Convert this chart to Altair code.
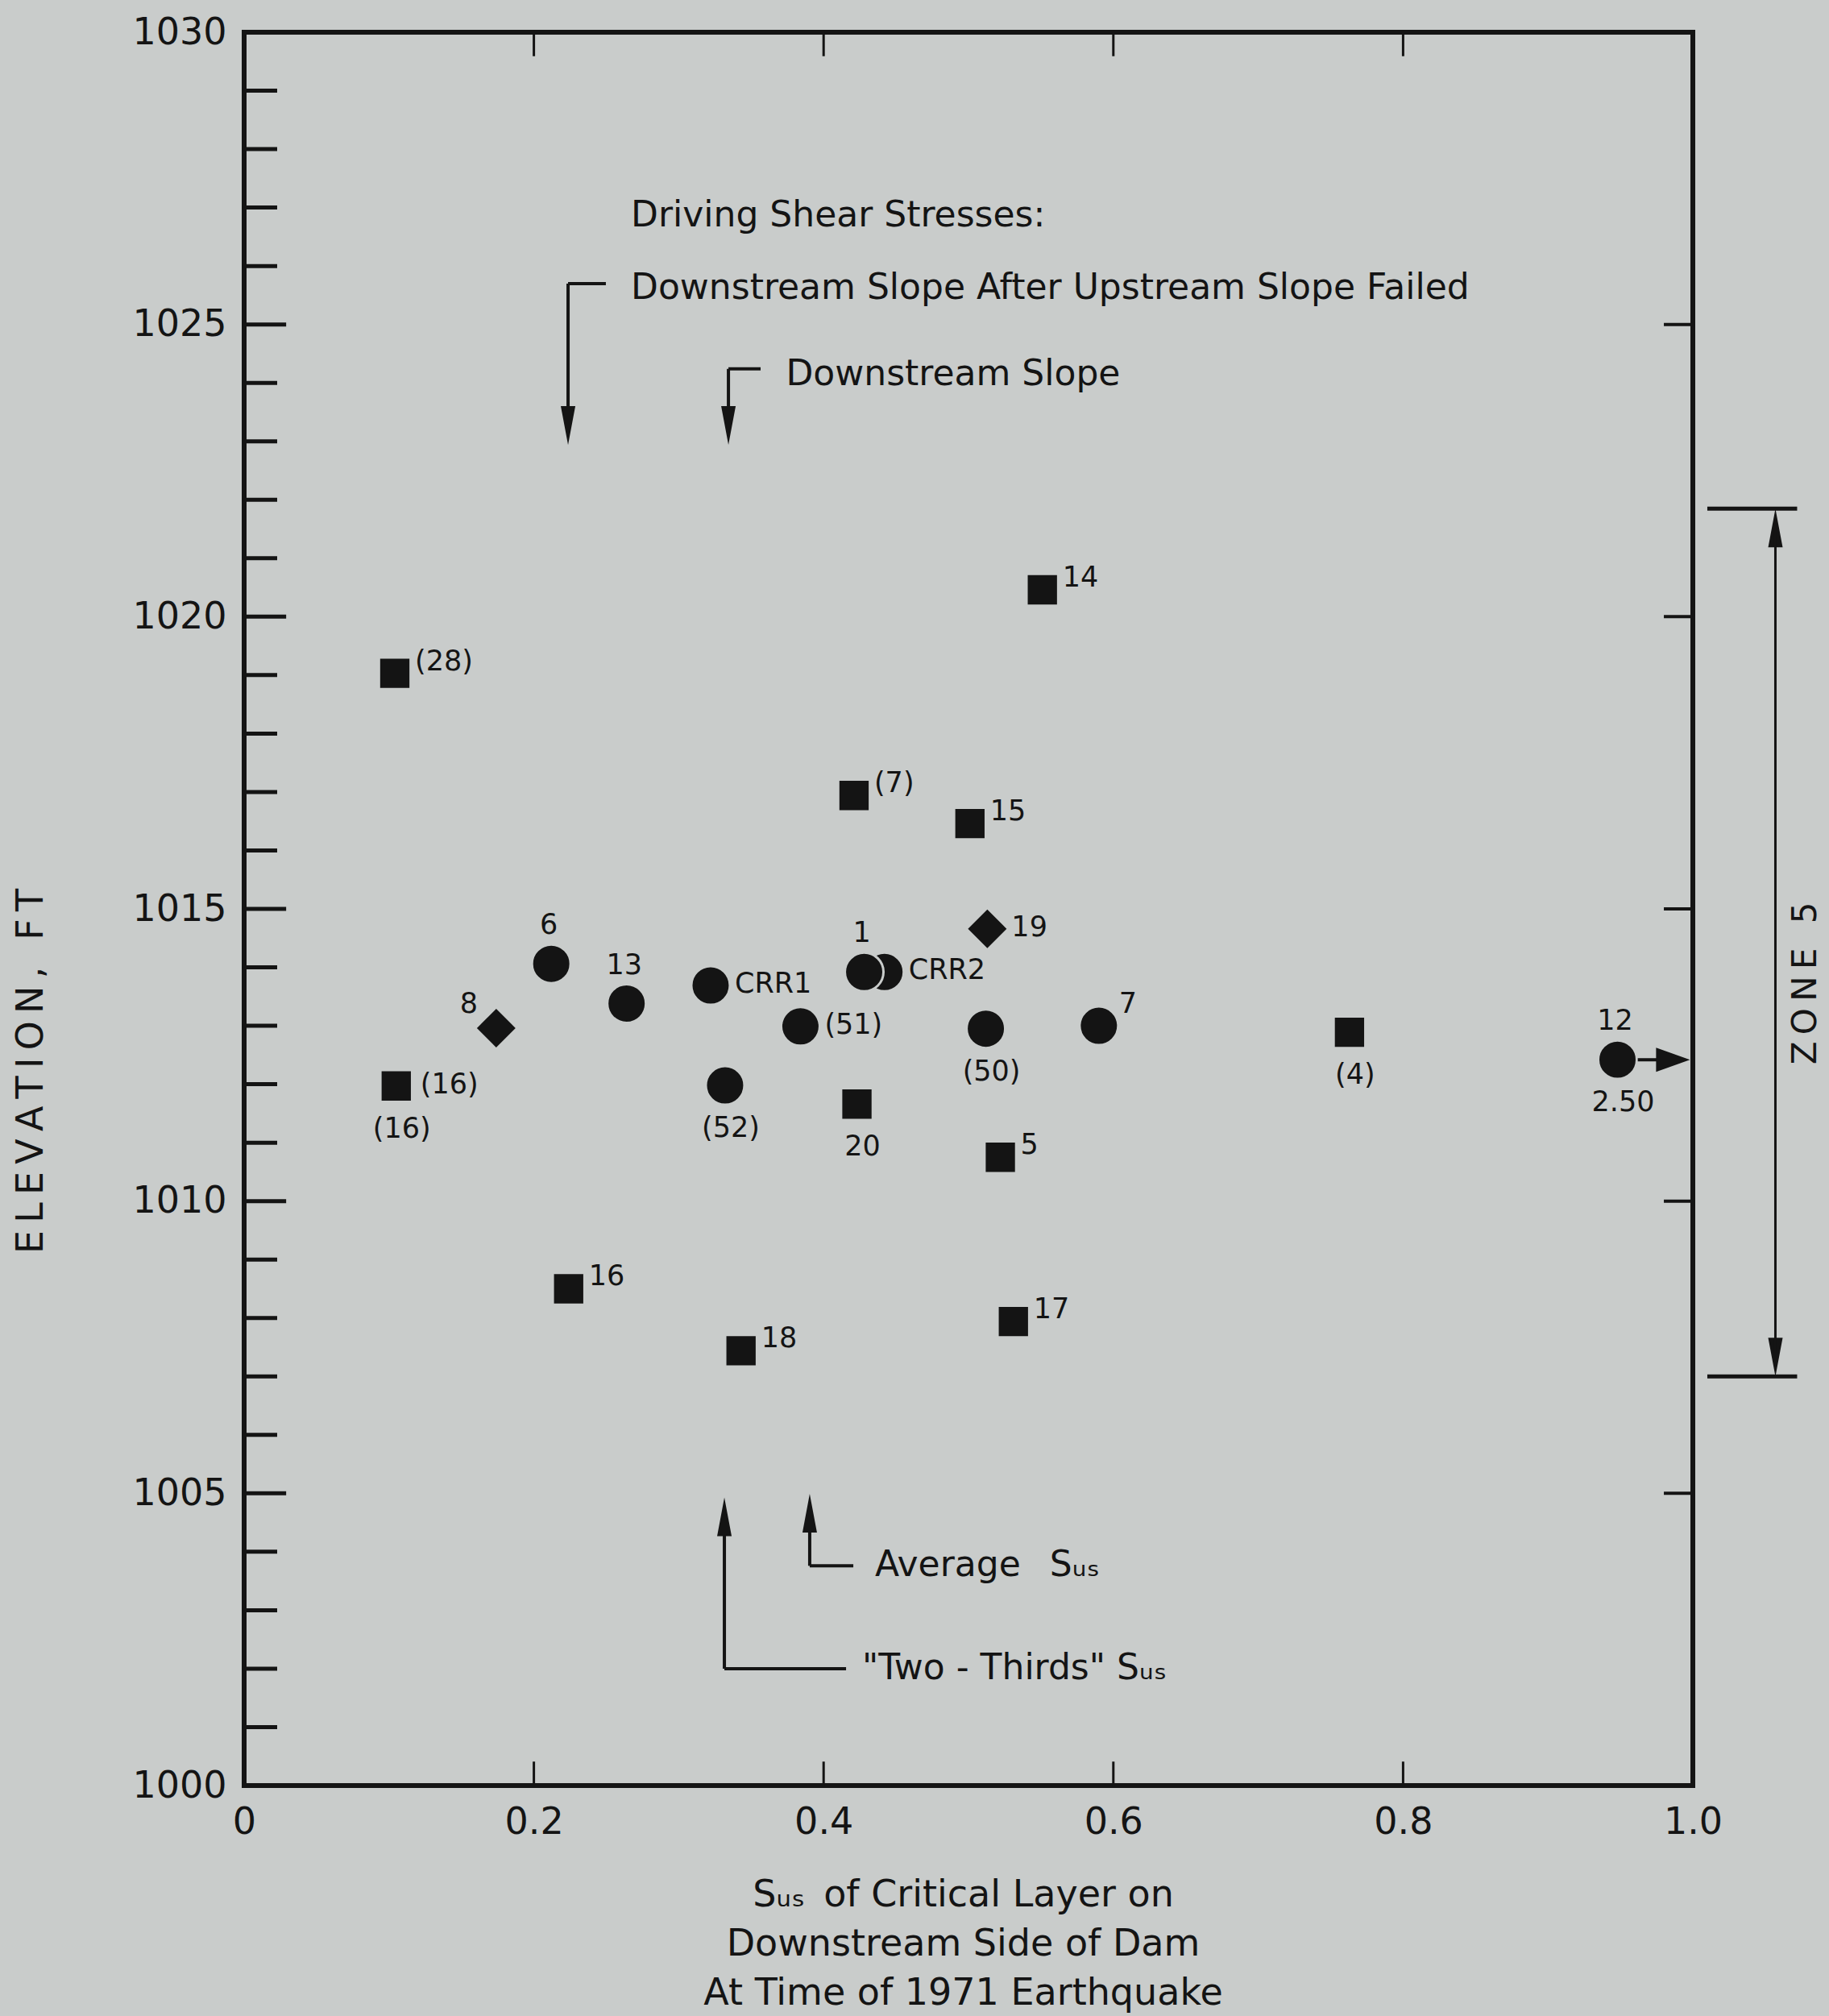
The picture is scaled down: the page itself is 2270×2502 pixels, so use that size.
import altair as alt
import pandas as pd

BG = "#c9cccb"
INK = "#141414"
FONT = "DejaVu Sans"

# ---------------- data points ----------------
pt_name = ["(28)", "(16)", "8", "6", "13", "CRR1", "(52)", "(51)", "CRR2", "1",
           "20", "(7)", "15", "14", "19", "(50)", "7", "5", "17", "16", "18", "(4)", "12"]
pt_sus = [0.104, 0.105, 0.174, 0.212, 0.264, 0.322, 0.332, 0.384, 0.442, 0.428,
          0.423, 0.421, 0.501, 0.551, 0.513, 0.512, 0.590, 0.522, 0.531, 0.224, 0.343, 0.763, 0.948]
pt_elev = [1019.03, 1011.97, 1012.96, 1014.06, 1013.38, 1013.69, 1011.98, 1012.99, 1013.92, 1013.92,
           1011.66, 1016.94, 1016.46, 1020.46, 1014.66, 1012.95, 1013.00, 1010.75, 1007.94, 1008.50,
           1007.44, 1012.89, 1012.42]
pt_shape = ["square", "square", "diamond", "circle", "circle", "circle", "circle", "circle", "circle", "circle",
            "square", "square", "square", "square", "diamond", "circle", "circle", "square", "square", "square",
            "square", "square", "circle"]

# ---------------- point labels ----------------
lab_text = ["(28)", "(16)", "(16)", "8", "6", "13", "CRR1", "(52)", "(51)", "1", "CRR2", "20",
            "(7)", "15", "14", "19", "(50)", "7", "5", "17", "16", "18", "(4)", "12", "2.50"]
lab_of = ["(28)", "(16)", "(16)", "8", "6", "13", "CRR1", "(52)", "(51)", "1", "CRR2", "20",
          "(7)", "15", "14", "19", "(50)", "7", "5", "17", "16", "18", "(4)", "12", "12"]
lab_place = ["sup", "right", "below", "upleft", "above", "above", "right", "below", "right", "above", "right", "below",
             "sup", "sup", "sup", "right", "below", "supc", "sup", "sup", "sup", "sup", "below", "above", "below"]

# ---------------- annotations ----------------
note_text = ["Driving Shear Stresses:",
             "Downstream Slope After Upstream Slope Failed",
             "Downstream Slope",
             "Average\u2002 S\u1d64\u209b",
             "\"Two - Thirds\" S\u1d64\u209b"]
note_x = [0.267, 0.267, 0.374, 0.4355, 0.4266]
note_y = [1026.86, 1025.62, 1024.14, 1003.76, 1002.00]

# leader line segments
seg_x1 = [0.2497, 0.2236, 0.3565, 0.3343, 0.4205, 0.3904, 0.4155, 0.3315, 0.962]
seg_x2 = [0.2236, 0.2236, 0.3343, 0.3343, 0.3904, 0.3904, 0.3315, 0.3315, 0.985]
seg_y1 = [1025.70, 1025.70, 1024.24, 1024.24, 1003.76, 1003.76, 1002.00, 1002.00, 1012.42]
seg_y2 = [1025.70, 1023.40, 1024.24, 1023.40, 1003.76, 1004.50, 1002.00, 1004.50, 1012.42]

# arrow heads
tip_x = [0.2236, 0.3343, 0.3904, 0.3315, 0.998, 1.057, 1.057]
tip_y = [1022.94, 1022.94, 1004.99, 1004.93, 1012.42, 1021.85, 1007.00]
tip_dir = ["down", "down", "up", "up", "right", "up", "down"]

# zone 5 dimension
zone_top, zone_bot = 1021.85, 1007.00
zone_x = 1.057
zone_bar_x1, zone_bar_x2 = 1.010, 1.072
zone_label = "Z\u2009O\u2009N\u2009E\u2009 \u20095"

# axis ticks
y_label_vals = [1000, 1005, 1010, 1015, 1020, 1025, 1030]
y_major_ticks = [1005, 1010, 1015, 1020, 1025]
y_minor_ticks = [1001, 1002, 1003, 1004, 1006, 1007, 1008, 1009, 1011, 1012, 1013, 1014,
                 1016, 1017, 1018, 1019, 1021, 1022, 1023, 1024, 1026, 1027, 1028, 1029]
x_label_vals = [0, 0.2, 0.4, 0.6, 0.8, 1.0]
x_inner_ticks = [0.2, 0.4, 0.6, 0.8]

# ---------------- build ----------------
xs = alt.Scale(domain=[0, 1], nice=False, zero=False)
ys = alt.Scale(domain=[1000, 1030], nice=False, zero=False)

x_axis = alt.Axis(values=x_label_vals,
                  labelExpr="datum.value == 0 ? '0' : format(datum.value, '.1f')",
                  ticks=False, domain=False, grid=False,
                  labelFont=FONT, labelFontSize=46, labelColor=INK, labelPadding=23,
                  labelFlush=False, labelOverlap=False,
                  title=["S\u1d64\u209b\u2002of Critical Layer on", "Downstream Side of Dam",
                         "At Time of 1971 Earthquake"],
                  titleFont=FONT, titleFontSize=46, titleFontWeight="normal", titleColor=INK,
                  titleLineHeight=61, titleBaseline="top", titleY=113, titleX=892)
y_axis = alt.Axis(values=y_label_vals, format="d",
                  ticks=False, domain=False, grid=False,
                  labelFont=FONT, labelFontSize=46, labelColor=INK, labelPadding=22,
                  labelFlush=False, labelOverlap=False,
                  title="E\u2009L\u2009E\u2009V\u2009A\u2009T\u2009I\u2009O\u2009N\u2009,\u2009 \u2009F\u2009T",
                  titleFont=FONT, titleFontSize=46, titleFontWeight="normal", titleColor=INK,
                  titleAngle=270, titleBaseline="middle", titleAlign="center",
                  titleX=-265, titleY=1289)


def X(f):
    return alt.X(f, type="quantitative", scale=xs, axis=x_axis)


def Y(f):
    return alt.Y(f, type="quantitative", scale=ys, axis=y_axis)


pts = pd.DataFrame({"name": pt_name, "sus": pt_sus, "elev": pt_elev, "shape": pt_shape})
lookup = {n: (sx, ey) for n, sx, ey in zip(pt_name, pt_sus, pt_elev)}
labs = pd.DataFrame({"text": lab_text,
                     "sus": [lookup[n][0] for n in lab_of],
                     "elev": [lookup[n][1] for n in lab_of],
                     "place": lab_place})

circles = alt.Chart(pts).transform_filter("datum.shape == 'circle'").mark_point(
    shape="circle", filled=True, fill=INK, stroke=BG, strokeWidth=3, size=2300, opacity=1
).encode(x=X("sus"), y=Y("elev"))

squares = alt.Chart(pts).transform_filter("datum.shape == 'square'").mark_point(
    shape="square", filled=True, fill=INK, strokeWidth=0, size=1320, opacity=1
).encode(x=X("sus"), y=Y("elev"))

diamonds = alt.Chart(pts).transform_filter("datum.shape == 'diamond'").mark_point(
    shape="diamond", filled=True, fill=INK, strokeWidth=0, size=2300, opacity=1
).encode(x=X("sus"), y=Y("elev"))

placements = {"sup": (25, -15, "left"), "supc": (25, -27, "left"), "right": (30, -2, "left"),
              "above": (-3, -48, "center"), "upleft": (-34, -30, "center"), "below": (7, 53, "center")}
label_layers = []
for key, (ddx, ddy, al) in placements.items():
    label_layers.append(
        alt.Chart(labs).transform_filter(f"datum.place == '{key}'").mark_text(
            font=FONT, fontSize=35, color=INK, align=al, baseline="middle", dx=ddx, dy=ddy
        ).encode(x=X("sus"), y=Y("elev"), text="text:N")
    )

notes = pd.DataFrame({"text": note_text, "x": note_x, "y": note_y})
note_layer = alt.Chart(notes).mark_text(
    font=FONT, fontSize=44, color=INK, align="left", baseline="middle"
).encode(x=X("x"), y=Y("y"), text="text:N")

segs = pd.DataFrame({"x1": seg_x1, "x2": seg_x2, "y1": seg_y1, "y2": seg_y2})
seg_layer = alt.Chart(segs).mark_rule(color=INK, strokeWidth=4).encode(
    x=X("x1"), x2="x2:Q", y=Y("y1"), y2="y2:Q")

arrow_paths = {"down": "M0,0L-0.375,-2L0.375,-2Z",
               "up": "M0,0L-0.375,2L0.375,2Z",
               "right": "M0,0L-1.75,-0.625L-1.75,0.625Z"}
tips = pd.DataFrame({"x": tip_x, "y": tip_y, "dir": tip_dir})
tip_layer = alt.Chart(tips).mark_point(filled=True, fill=INK, strokeWidth=0, size=2304, opacity=1).encode(
    x=X("x"), y=Y("y"),
    shape=alt.Shape("dir:N", scale=alt.Scale(domain=list(arrow_paths.keys()),
                                             range=list(arrow_paths.values())), legend=None))

zone_line = alt.Chart(pd.DataFrame({"x": [zone_x], "y1": [zone_top - 0.4], "y2": [zone_bot + 0.4]})).mark_rule(
    color=INK, strokeWidth=3).encode(x=X("x"), y=Y("y1"), y2="y2:Q")
zone_bars = alt.Chart(pd.DataFrame({"x1": [zone_bar_x1, zone_bar_x1], "x2": [zone_bar_x2, zone_bar_x2],
                                    "y": [zone_top, zone_bot]})).mark_rule(
    color=INK, strokeWidth=5).encode(x=X("x1"), x2="x2:Q", y=Y("y"))
zone_text = alt.Chart(pd.DataFrame({"text": [zone_label], "x": [1.078],
                                    "y": [(zone_top + zone_bot) / 2 - 0.7]})).mark_text(
    font=FONT, fontSize=42, color=INK, angle=270, align="center", baseline="middle"
).encode(x=X("x"), y=Y("y"), text="text:N")

# inward tick marks
left_major = alt.Chart(pd.DataFrame({"y": y_major_ticks})).transform_calculate(a="0", b="0.029").mark_rule(
    color=INK, strokeWidth=5).encode(x=X("a"), x2="b:Q", y=Y("y"))
left_minor = alt.Chart(pd.DataFrame({"y": y_minor_ticks})).transform_calculate(a="0", b="0.0228").mark_rule(
    color=INK, strokeWidth=5).encode(x=X("a"), x2="b:Q", y=Y("y"))
right_ticks = alt.Chart(pd.DataFrame({"y": y_major_ticks})).transform_calculate(a="0.98", b="1").mark_rule(
    color=INK, strokeWidth=4).encode(x=X("a"), x2="b:Q", y=Y("y"))
top_ticks = alt.Chart(pd.DataFrame({"x": x_inner_ticks})).transform_calculate(a="1030", b="1029.59").mark_rule(
    color=INK, strokeWidth=3).encode(x=X("x"), y=Y("a"), y2="b:Q")
bottom_ticks = alt.Chart(pd.DataFrame({"x": x_inner_ticks})).transform_calculate(a="1000", b="1000.41").mark_rule(
    color=INK, strokeWidth=3).encode(x=X("x"), y=Y("a"), y2="b:Q")

chart = alt.layer(
    circles, left_major, left_minor, right_ticks, top_ticks, bottom_ticks,
    seg_layer, tip_layer, zone_line, zone_bars, zone_text, note_layer,
    squares, diamonds, *label_layers
).properties(
    width=1798, height=2176,
    autosize=alt.AutoSizeParams(type="none"),
    padding={"left": 303, "top": 40, "right": 169, "bottom": 286},
    background=BG,
).configure_view(stroke=INK, strokeWidth=6)

chart.save("out.html", embed_options={"renderer": "svg", "actions": False})
